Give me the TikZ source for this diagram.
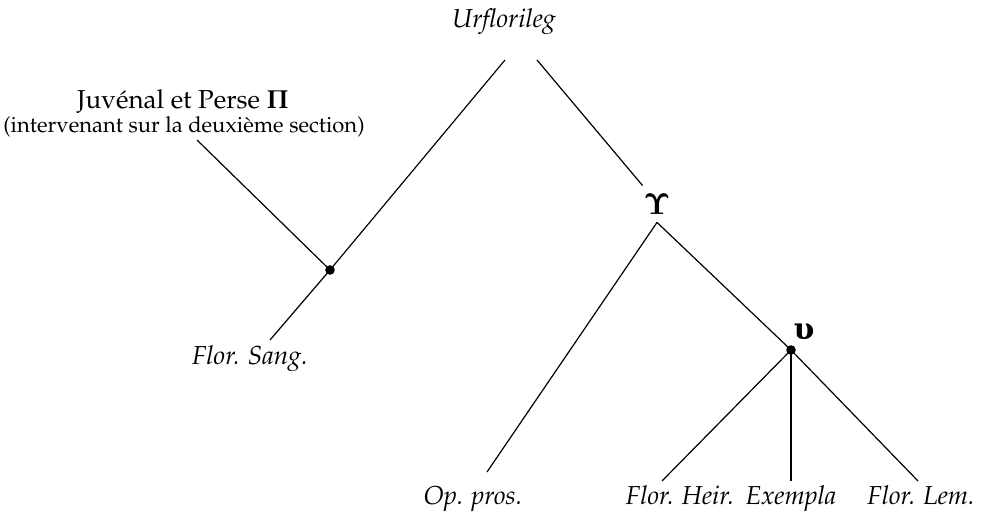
\documentclass[tikz,border=0pt]{standalone}
\usepackage[T1]{fontenc}
\usepackage{mathpazo}
\usepackage{bm}
\font\upsfont=cmbx10 at 15pt
\font\upsilonfont="DejaVu Serif/B" at 15pt
\newcommand{\bigUps}{{\upsfont\char7}}
\newcommand{\smallUps}{{\upsilonfont\char"03C5}}

\begin{document}
\begin{tikzpicture}[x=0.5pt,y=-0.5pt]
			\tikzstyle{every node}+=[inner sep=0pt, font=\fontsize{13}{15}\selectfont]
			\tikzstyle{ms}=[anchor=base]
			\tikzstyle{branch}=[black, line width=0.6pt]
			\tikzstyle{knot}=[circle, fill=black, minimum size=4.8pt]
			\useasboundingbox (0,0) rectangle (996,517);
			% witnesses
			\node [ms] (urf) at (504,28) {\textit{Urflorileg}};
			\node [ms] (juv) at (183,109) {Juv\'enal et Perse $\bm{\Pi}$};
			\node [ms, font=\fontsize{11}{13}\selectfont] (juvnote) at (184,133) {(intervenant sur la deuxi\`eme section)};
			\node [ms] (sang) at (250,365) {\textit{Flor. Sang.}};
			\node [ms] (oppros) at (473,505) {\textit{Op. pros.}};
			\node [ms] (heir) at (680,505) {\textit{Flor. Heir.}};
			\node [ms] (exempla) at (791,505) {\textit{Exempla}};
			\node [ms] (lem) at (921,505) {\textit{Flor. Lem.}};
			% hyparchetypes
			\node [minimum width=14pt, minimum height=18pt] (Ups) at (657,204) {\bigUps};
			\node [knot] (a) at (330,270) {};
			\node [knot] (b) at (791,350) {};
			\node (ups) at (804,332) {\smallUps};
			% line ends
			\coordinate (urL) at (505,60);
			\coordinate (urR) at (537,60);
			\coordinate (juvE) at (197,140);
			\coordinate (sangE) at (270,340);
			\coordinate (opE) at (487,472);
			\coordinate (heirE) at (662,481);
			\coordinate (exE) at (791,481);
			\coordinate (lemE) at (918,481);
			% stemma
			\draw [branch] (urL) -- (a.center);
			\draw [branch] (juvE) -- (a.center);
			\draw [branch] (a.center) -- (sangE);
			\draw [branch] (urR) -- (Ups.north west);
			\draw [branch] (Ups.south) -- (opE);
			\draw [branch] (Ups.south) -- (b.center);
			\draw [branch] (b.center) -- (heirE);
			\draw [branch] (b.center) -- (exE);
			\draw [branch] (b.center) -- (lemE);
		\end{tikzpicture}
\end{document}
